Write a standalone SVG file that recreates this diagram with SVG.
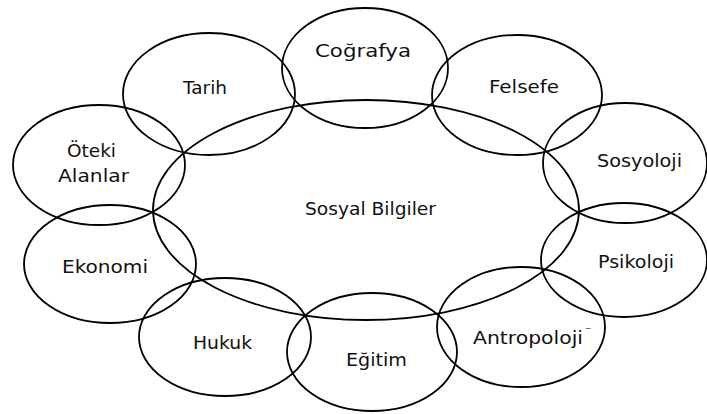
<svg xmlns="http://www.w3.org/2000/svg" width="707" height="414" viewBox="0 0 707 414">
<style>
ellipse{fill:none;stroke:#000;stroke-width:1.8}
text{font-family:"DejaVu Sans","Liberation Sans",sans-serif;font-size:18px;fill:#111;text-anchor:start}
</style>
<rect width="707" height="414" fill="#fff"/>
<g id="sosyal-bilgiler"><ellipse cx="366" cy="210" rx="213" ry="110"/><text x="305" y="215" textLength="131" lengthAdjust="spacingAndGlyphs">Sosyal Bilgiler</text></g>
<g id="cografya"><ellipse cx="365" cy="68" rx="83" ry="60"/><text x="315" y="57" textLength="96" lengthAdjust="spacingAndGlyphs">Coğrafya</text></g>
<g id="tarih"><ellipse cx="209" cy="94" rx="86" ry="61"/><text x="183" y="94" textLength="44" lengthAdjust="spacingAndGlyphs">Tarih</text></g>
<g id="felsefe"><ellipse cx="517" cy="95" rx="85" ry="60"/><text x="489" y="93" textLength="70" lengthAdjust="spacingAndGlyphs">Felsefe</text></g>
<g id="oteki-alanlar"><ellipse cx="99" cy="165" rx="86" ry="60"/><text x="67" y="157" textLength="49" lengthAdjust="spacingAndGlyphs">Öteki</text><text x="58" y="182" textLength="71" lengthAdjust="spacingAndGlyphs">Alanlar</text></g>
<g id="sosyoloji"><ellipse cx="625" cy="163" rx="82" ry="60"/><text x="597" y="167" textLength="85" lengthAdjust="spacingAndGlyphs">Sosyoloji</text></g>
<g id="ekonomi"><ellipse cx="110" cy="264" rx="86" ry="59"/><text x="62" y="273" textLength="86" lengthAdjust="spacingAndGlyphs">Ekonomi</text></g>
<g id="psikoloji"><ellipse cx="624" cy="260" rx="83" ry="57"/><text x="598" y="268" textLength="76" lengthAdjust="spacingAndGlyphs">Psikoloji</text></g>
<g id="hukuk"><ellipse cx="225" cy="337" rx="86" ry="59"/><text x="193" y="349" textLength="59" lengthAdjust="spacingAndGlyphs">Hukuk</text></g>
<g id="egitim"><ellipse cx="372" cy="352" rx="85" ry="59"/><text x="346" y="366" textLength="61" lengthAdjust="spacingAndGlyphs">Eğitim</text></g>
<g id="antropoloji"><ellipse cx="521" cy="327" rx="84" ry="60"/><text x="473" y="344" textLength="110" lengthAdjust="spacingAndGlyphs">Antropoloji</text><text x="585" y="335" style="font-size:12px">⁻</text></g>
<g id="connectors"></g>
</svg>
